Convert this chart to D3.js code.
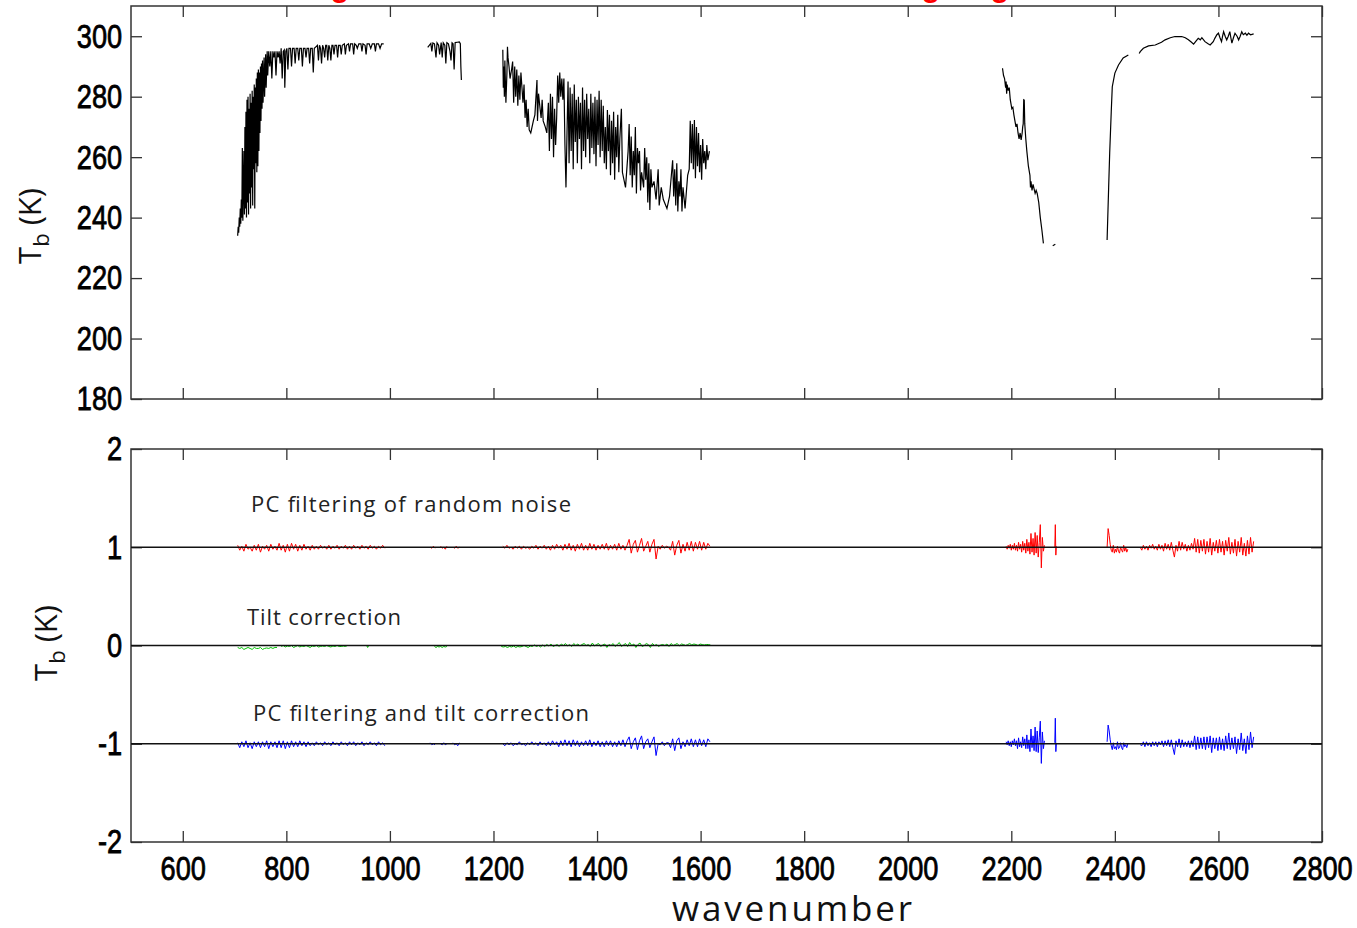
<!DOCTYPE html>
<html>
<head>
<meta charset="utf-8">
<title>Tb spectrum and residuals</title>
<script src="https://d3js.org/d3.v7.min.js"></script>
<style>
  * { margin: 0; padding: 0; }
  body { background: #fff; width: 1357px; height: 928px; overflow: hidden; }
  .tick text { font-family: "Liberation Sans", Arial, sans-serif; font-size: 34px; fill: #000; stroke: #000; stroke-width: 0.8px; }
  .tick line { stroke: #333; stroke-width: 1.3px; }
  .note { font-family: "Open Sans", sans-serif; font-size: 22px; fill: #222; }
  .lab { font-family: "Open Sans", sans-serif; fill: #111; }
</style>
</head>
<body>
<svg id="chart" width="1357" height="928"></svg>
<script>
// ---- data ----
const xTicks = [600, 800, 1000, 1200, 1400, 1600, 1800, 2000, 2200, 2400, 2600, 2800];
const topTicks = [180, 200, 220, 240, 260, 280, 300];
const botTicks = [-2, -1, 0, 1, 2];

// brightness temperature spectrum, [wavenumber, Tb], one array per band
const spec1 = [[706,234],[707,237],[708,235],[709,240],[710,237],[711,243],[712,238],[713,246],[714,240],[715,263],[716,239],[718,262],[719,241],[720,270],[721,243],[722,275],[723,240],[724,279],[725,245],[726,280],[727,241],[728,276],[729,248],[730,281],[731,243],[732,278],[733,250],[734,282],[735,244],[736,280],[737,256],[738,284],[739,243],[740,283],[741,258],[742,286],[743,255],[744,288],[745,257],[746,289],[747,262],[748,288],[749,268],[750,290],[751,272],[752,291],[753,276],[754,292],[755,278],[757,293],[758,280],[760,294],[761,283],[763,295],[764,287],[766,295],[768,290],[770,295],[772,286],[774,295],[776,293],[778,295],[780,287],[782,295],[784,293],[786,295],[788,291],[790,296],[792,286],[794,295],[796,295.5],[797,283],[799,295],[801,296],[803,289],[805,296],[808,296],[810,290],[812,296],[815,296],[817,291],[819,296],[822,296],[824,292],[826,296],[829,296],[831,290],[833,296],[836,296],[838,293],[840,296],[843,296],[845,291],[847,296],[850,296],[852,288],[854,296],[857,296.5],[860,297],[862,292],[864,297],[866,296],[868,291],[870,297],[872,296],[874,293],[876,297],[878,297],[880,292],[882,297],[884,296],[886,292],[888,297],[890,297],[892,294],[894,297],[897,297],[899,293],[901,297],[904,297],[906,294],[908,297],[912,297.5],[914,294],[916,297],[920,297.5],[922,295],[924,297.5],[928,297.5],[930,294],[932,297.5],[935,297],[937,296],[940,297.5],[944,297.5],[946,295],[948,297.5],[952,297],[954,294],[956,297.5],[960,297.5],[963,296],[966,297.5],[970,297.5],[972,295],[974,297.5],[978,297.5],[981,296],[984,297.5],[988,297.5]];
const spec2 = [[1073,296.3],[1076,297],[1079,297.6],[1081,295],[1083,297.8],[1086,297.5],[1089,293],[1091,297.8],[1094,297],[1096,294],[1099,297.9],[1101,293],[1103,297.8],[1106,297],[1108,291],[1110,297.9],[1113,297.5],[1116,295],[1118,292],[1120,297.8],[1122,297.5],[1124,289],[1126,297.9],[1130,298],[1134,298.1],[1136,297.5],[1137,290],[1138,285.5]];
const spec3 = [[1218,295.5],[1219,283],[1220,290],[1221,280],[1222,292],[1224,278],[1226,288],[1227,296.5],[1228,293],[1230,290],[1232,286],[1235,289],[1237,291.6],[1239,278],[1241,290],[1243,280],[1245,289],[1247,277],[1249,287],[1251,279],[1253,288],[1255,283],[1257,278],[1259,284],[1261,273],[1263,279],[1265,270],[1267,276],[1269,269],[1272,268],[1277,272],[1280,274],[1284,285.5],[1285,272],[1287,281],[1290,276],[1292,273],[1294,279],[1296,272],[1300,270],[1303,268],[1306,278],[1308,262],[1310,281],[1312,266],[1314,280],[1316,260],[1318,276],[1320,264],[1322,273],[1324,287],[1326,278],[1328,288],[1330,280],[1332,286],[1334,279],[1336,286],[1338,264],[1340,250],[1342,268],[1344,285],[1346,258],[1348,283],[1350,262],[1352,281],[1354,256],[1356,284],[1358,265],[1360,279],[1362,258],[1364,280],[1366,266],[1368,278],[1370,256],[1372,283],[1374,262],[1376,279],[1378,260],[1380,281],[1382,266],[1384,276],[1386,258],[1388,281],[1390,263],[1392,278],[1394,261],[1396,280],[1398,257],[1400,279],[1402,264],[1404,282],[1406,260],[1408,279],[1410,262],[1412,277],[1414,258],[1416,270],[1418,256],[1420,275.6],[1422,262],[1424,274],[1426,254],[1428,272],[1430,258],[1432,275],[1434,252.5],[1436,270],[1438,260],[1440,274],[1442,255],[1444,266],[1447,276],[1449,255],[1455,250],[1460,262],[1462,271],[1464,254],[1466,266.8],[1468,250],[1470,262],[1472,254],[1474,270],[1476,248],[1478,263],[1480,258],[1482,262],[1484,249],[1486,255],[1490,250],[1492,263],[1494,252.5],[1496,260],[1498,245],[1500,258],[1502,242.5],[1504,256],[1506,250],[1510,252],[1514,246],[1518,256],[1520,244],[1524,250],[1528,246],[1535,243],[1540,247],[1546,259],[1548,247],[1550,256],[1552,244],[1554,258],[1556,242],[1558,252],[1560,247],[1562,256],[1564,242],[1566,250],[1570,243],[1575,254],[1578,256],[1580,272],[1582,258],[1584,271],[1586,256],[1588,272.3],[1590,253],[1592,270],[1594,257],[1596,268],[1598,255],[1600,264],[1602,252.5],[1604,266],[1606,258],[1608,262],[1610,256],[1612,264],[1614,259],[1617,262]];
const spec4 = [[2183,289.4],[2185,287],[2187,286],[2189,283],[2190,285],[2191,281],[2192,284],[2194,282],[2196,283],[2198,279],[2201,276],[2203,276.5],[2205,274],[2207,272],[2209,270],[2211,271],[2213,268],[2215,266],[2217,268],[2219,265.7],[2221,268],[2222,270],[2223,271],[2224,279],[2225,278.9],[2226,271],[2228,266],[2230,262],[2233,257],[2236,254],[2237,250],[2238,252],[2240,249],[2242,251],[2244,249.5],[2246,248],[2248,249],[2250,248],[2253,245],[2256,240],[2259,236],[2262,231.5]];
const spec4b = [[2280,230.7],[2285,231.2]];
const spec5a = [[2385,232.6],[2388,250],[2390,261.4],[2393,275],[2395,283.3],[2400,287.8],[2407,290.5],[2416,292.8],[2426,293.8]];
const spec5b = [[2447,294.3],[2449,294.9],[2455,296],[2465,296.8],[2478,297.1],[2490,298],[2497,298.8],[2507,299.5],[2516,299.9],[2529,299.9],[2536,299.5],[2542,298.8],[2548,298],[2552,297.4],[2557,298.5],[2561,299.3],[2565,298.8],[2568,299.5],[2574,298.2],[2580,297.5],[2584,297.1],[2590,298.2],[2593,299.3],[2597,300.5],[2600,301],[2603,299.5],[2606,298.2],[2608,300],[2610,301.5],[2613,300],[2616,298.8],[2619,300],[2622,301.5],[2624,299.5],[2626,297.7],[2629,299.5],[2632,301],[2636,300],[2639,298.8],[2642,300],[2645,301.5],[2648,300.5],[2652,301],[2655,300.3],[2658,301],[2662,300.5],[2668,300.8]];
const spectrum = [spec1, spec2, spec3, spec4, spec4b, spec5a, spec5b];

// residuals (K) on channel grids: start wavenumber, channel step, values
const pcNoise = [
  {start: 706, step: 4, values: [0.02,-0.03,0.01,-0.04,0.03,-0.02,0.00,-0.04,0.02,-0.03, 0.03,-0.05,0.01,-0.02,0.02,-0.04,0.03,-0.02,0.01,-0.03, 0.04,-0.03,0.02,-0.05,0.03,-0.04,0.04,-0.02,0.03,-0.04, 0.02,-0.03,0.03,-0.02,0.01,-0.03,0.02,-0.02,0.01,-0.02, 0.02,-0.01,0.01,-0.02,0.02,-0.02,0.01,-0.01,0.02,-0.02, 0.01,-0.01,0.02,-0.02,0.01,-0.02,0.02,-0.01,0.01,-0.02, 0.02,-0.01,0.01,-0.02,0.02,-0.01,0.01,-0.02,0.01,-0.01, 0.02,-0.01]},
  {start: 1078, step: 3, values: [0.00,-0.01,0.01,-0.01]},
  {start: 1098, step: 3, values: [0.01,-0.01,0.00,-0.02,0.01]},
  {start: 1122, step: 3, values: [0.00,-0.01,0.01,-0.01,0.00]},
  {start: 1218, step: 4, values: [0.01,-0.01,0.02,-0.01,0.00,-0.02,0.01,-0.01,0.01,-0.02, 0.01,-0.01,0.00,-0.02,0.01,-0.01,0.02,-0.02,0.01,-0.01, 0.02,-0.02,0.01,-0.03,0.02,-0.02,0.03,-0.01,0.02,-0.03, 0.03,-0.02,0.04,-0.03,0.02,-0.04,0.03,-0.02,0.04,-0.03, 0.02,-0.03,0.04,-0.02,0.03,-0.03,0.02,-0.02,0.03,-0.02, 0.04,-0.03,0.02,-0.02,0.03,-0.03,0.04,-0.02,0.02,-0.03, 0.02,0.08,-0.06,0.03,0.07,-0.05,0.02,0.09,-0.04,0.01, 0.06,-0.05,0.03,0.08,-0.12,0.01,-0.02,0.02,-0.01,0.01, 0.00,-0.03,0.06,-0.08,0.02,0.07,-0.06,0.03,-0.04,0.05, -0.03,0.06,-0.04,0.05,-0.02,0.06,-0.03,0.05,-0.02,0.04, 0.01]},
  {start: 2190, step: 2, values: [0.01,-0.02,0.02,-0.01,0.03,-0.03,0.02,-0.02,0.04,-0.03,0.02,-0.04,0.05,-0.02,0.03,-0.05,0.06,-0.03,0.04,-0.06,0.08,-0.04,0.05,-0.07,0.14,-0.05,0.09,-0.08,0.15,-0.06,0.12,-0.10,0.05,0.23,-0.21,0.10,-0.04,0.02]},
  {start: 2284, step: 1, values: [0.00,0.23,-0.08,0.01]},
  {start: 2385, step: 2, values: [0.00,0.19,0.12,0.03,-0.03,-0.05,0.02,-0.06,-0.02,-0.05,0.01,-0.04,-0.06,0.00,-0.03,-0.05,0.02,-0.04,0.00,-0.05,-0.02]},
  {start: 2449, step: 3, values: [0.00,-0.03,0.02,-0.02,0.01,-0.03,0.02,-0.01,0.03,-0.02, 0.01,-0.03,0.03,-0.02,0.02,-0.04,0.04,-0.02,0.03,-0.03, 0.05,-0.03,-0.10,0.02,-0.04,0.06,-0.03,0.05,-0.02,0.03, -0.04,0.02,-0.03,0.04,-0.02,0.09,-0.05,0.08,-0.06,0.07, -0.04,0.08,-0.07,0.06,-0.05,0.09,-0.08,0.05,-0.04,0.07, -0.06,0.08,-0.05,0.06,-0.08,0.07,-0.04,0.10,-0.07,0.05, -0.06,0.08,-0.09,0.06,-0.05,0.10,-0.08,0.04,-0.09,0.07, -0.07,0.10,-0.05,0.06]}
];
const tilt = [
  {start: 706, step: 4, values: [-0.02,-0.03,-0.02,-0.04,-0.03,-0.02,-0.03,-0.04,-0.02,-0.03,-0.03,-0.02,-0.04,-0.03,-0.025,-0.03,-0.02,-0.03,-0.02,-0.02]},
  {start: 790, step: 4, values: [-0.01,0.00,-0.015,-0.005,-0.01,0.00,-0.02,-0.01,0.00,-0.015,-0.005,-0.01,0.00,-0.01,-0.02,-0.005,-0.01,0.00,-0.015,-0.01,-0.005,-0.01,0.00,-0.01,-0.015,-0.005,-0.01,0.00,-0.01,-0.01,-0.005,-0.01,0.00]},
  {start: 955, step: 2, values: [0.00,-0.02,0.00]},
  {start: 1086, step: 3, values: [-0.01,-0.02,-0.01,-0.015,-0.01,-0.02,-0.01,-0.015,-0.01]},
  {start: 1215, step: 4, values: [-0.01,-0.015,-0.01,-0.02,-0.01,-0.015,-0.005,-0.02,-0.01,-0.015, -0.01,0.00,-0.01,-0.02,-0.005,-0.01,0.005,-0.01,0.00,-0.015, 0.005,-0.01,0.01,-0.005,0.015,-0.01,0.00,0.01,-0.01,0.015, 0.00,0.02,-0.005,0.01,-0.01,0.02,0.00,0.015,-0.005,0.01, 0.02,0.00,0.01,-0.01,0.025,-0.005,0.01,0.02,-0.01,0.005, 0.015,-0.02,0.01,0.00,0.02,-0.01,0.01,0.03,-0.01,0.005, 0.02,-0.01,0.03,0.00,0.015,-0.02,0.01,0.025,-0.01,0.00, 0.02,0.01,-0.02,0.02,0.00,0.01,-0.01,0.005,0.01,0.00, 0.015,-0.01,0.02,0.00,0.01,0.02,-0.005,0.015,0.01,0.00, 0.01,0.02,0.005,0.015,0.01,0.00,0.015,0.01,0.005,0.01, 0.01,0.005]}
];
const pcTilt = [
  {start: 706, step: 4, values: [0.01,-0.04,0.02,-0.03,0.03,-0.04,0.01,-0.05,0.02,-0.03, 0.02,-0.04,0.02,-0.03,0.03,-0.05,0.02,-0.03,0.02,-0.04, 0.03,-0.04,0.03,-0.05,0.02,-0.04,0.03,-0.03,0.02,-0.03, 0.03,-0.02,0.02,-0.03,0.02,-0.02,0.01,-0.02,0.02,-0.01, 0.01,-0.02,0.02,-0.01,0.01,-0.02,0.02,-0.01,0.01,-0.02, 0.02,-0.01,0.01,-0.02,0.02,-0.01,0.02,-0.02,0.01,-0.01, 0.02,-0.02,0.01,-0.01,0.02,-0.01,0.01,-0.02,0.02,-0.01, 0.01,-0.02]},
  {start: 1078, step: 3, values: [0.01,-0.01,0.00,-0.01]},
  {start: 1098, step: 3, values: [0.00,-0.01,0.01,-0.01,0.00]},
  {start: 1122, step: 3, values: [0.01,-0.01,0.00,-0.02,0.01]},
  {start: 1218, step: 4, values: [0.00,-0.02,0.01,-0.01,0.01,-0.02,0.00,-0.01,0.02,-0.01, 0.00,-0.02,0.01,-0.01,0.02,-0.01,0.01,-0.02,0.02,-0.01, 0.01,-0.02,0.02,-0.02,0.03,-0.01,0.02,-0.03,0.03,-0.02, 0.04,-0.02,0.03,-0.03,0.04,-0.02,0.03,-0.03,0.02,-0.02, 0.03,-0.02,0.04,-0.03,0.02,-0.02,0.03,-0.03,0.02,-0.03, 0.03,-0.02,0.03,-0.03,0.02,-0.03,0.03,-0.02,0.04,-0.03, 0.03,0.07,-0.05,0.02,0.06,-0.06,0.03,0.08,-0.05,0.02, 0.05,-0.04,0.02,0.07,-0.12,0.00,-0.01,0.02,-0.02,0.01, 0.01,-0.04,0.05,-0.07,0.03,0.06,-0.05,0.02,-0.03,0.04, -0.02,0.05,-0.03,0.04,-0.03,0.05,-0.02,0.04,-0.03,0.05, 0.02]},
  {start: 2190, step: 2, values: [0.02,-0.01,0.03,-0.02,0.02,-0.03,0.03,-0.01,0.05,-0.02,0.03,-0.05,0.06,-0.03,0.02,-0.04,0.07,-0.02,0.05,-0.05,0.09,-0.05,0.04,-0.08,0.15,-0.04,0.08,-0.07,0.17,-0.08,0.13,-0.09,0.06,0.23,-0.20,0.12,-0.05,0.03]},
  {start: 2284, step: 1, values: [0.01,0.26,-0.08,0.00]},
  {start: 2385, step: 2, values: [0.02,0.19,0.13,0.04,-0.02,-0.06,0.01,-0.05,-0.03,-0.06,0.02,-0.05,-0.04,0.01,-0.04,-0.06,0.01,-0.03,-0.01,-0.04,0.00]},
  {start: 2449, step: 3, values: [-0.01,-0.02,0.02,-0.03,0.02,-0.02,0.01,-0.03,0.02,-0.02, 0.02,-0.03,0.02,-0.01,0.03,-0.03,0.03,-0.02,0.04,-0.03, 0.04,-0.04,-0.11,0.03,-0.03,0.05,-0.04,0.04,-0.03,0.02, -0.03,0.03,-0.04,0.03,-0.03,0.08,-0.06,0.07,-0.05,0.06, -0.05,0.07,-0.06,0.07,-0.04,0.08,-0.09,0.06,-0.05,0.06, -0.07,0.07,-0.06,0.05,-0.07,0.08,-0.05,0.11,-0.06,0.06, -0.05,0.07,-0.10,0.05,-0.06,0.11,-0.07,0.05,-0.10,0.08, -0.06,0.12,-0.04,0.07]}
];

const residualSeries = [
  {name: "PC filtering of random noise", offset: 1, color: "#ff0000", segs: pcNoise},
  {name: "Tilt correction", offset: 0, color: "#00c400", segs: tilt},
  {name: "PC filtering and tilt correction", offset: -1, color: "#0000ff", segs: pcTilt}
];

// ---- layout ----
const left = 131, right = 1322;
const svg = d3.select("#chart");

const x = d3.scaleLinear().domain([500, 2800]).range([left, right]);
const yTop = d3.scaleLinear().domain([180, 310]).range([399, 6]);
const yBot = d3.scaleLinear().domain([-2, 2]).range([842, 449]);

const plain = d => String(d);   // "-1" with a hyphen, no decimals

function frame(y, ticks, withXLabels) {
  const g = svg.append("g");
  const y0 = y.range()[0], y1 = y.range()[1];

  const bx = g.append("g").attr("transform", `translate(0,${y0})`)
    .call(d3.axisBottom(x).tickValues(xTicks).tickSizeInner(-11).tickSizeOuter(0).tickPadding(14)
      .tickFormat(withXLabels ? plain : ""));
  g.append("g").attr("transform", `translate(0,${y1})`)
    .call(d3.axisTop(x).tickValues(xTicks).tickSizeInner(-11).tickSizeOuter(0).tickFormat(""));
  const ly = g.append("g").attr("transform", `translate(${left},0)`)
    .call(d3.axisLeft(y).tickValues(ticks).tickSizeInner(-11).tickSizeOuter(0).tickPadding(11).tickFormat(plain));
  g.append("g").attr("transform", `translate(${right},0)`)
    .call(d3.axisRight(y).tickValues(ticks).tickSizeInner(-11).tickSizeOuter(0).tickFormat(""));

  g.selectAll(".domain").remove();
  bx.selectAll("text").attr("transform", "scale(0.8,1)");
  ly.selectAll("text").attr("transform", "scale(0.8,1)");
  g.append("rect")
    .attr("x", left).attr("y", y1)
    .attr("width", right - left).attr("height", y0 - y1)
    .attr("fill", "none").attr("stroke", "#333").attr("stroke-width", 1.5);
  return g;
}

frame(yTop, topTicks, false);
frame(yBot, botTicks, true);

// spectrum
const lineTop = d3.line().x(d => x(d[0])).y(d => yTop(d[1]));
svg.append("g").selectAll("path").data(spectrum).join("path")
  .attr("d", lineTop)
  .attr("fill", "none").attr("stroke", "#000").attr("stroke-width", 1.2);

// residuals, shifted by their display offset
const lineBot = d3.line().x(d => x(d[0])).y(d => yBot(d[1]));
residualSeries.forEach(s => {
  const pts = s.segs.map(seg => seg.values.map((v, i) => [seg.start + i * seg.step, v + s.offset]));
  svg.append("g").selectAll("path").data(pts).join("path")
    .attr("d", lineBot)
    .attr("fill", "none").attr("stroke", s.color).attr("stroke-width", 1);
});

// reference lines at each offset
svg.append("g").selectAll("line").data(residualSeries).join("line")
  .attr("x1", left).attr("x2", right)
  .attr("y1", d => yBot(d.offset)).attr("y2", d => yBot(d.offset))
  .attr("stroke", "#111").attr("stroke-width", 1.4);

// series annotations: left x, baseline y, drawn width
const notePos = [[251, 512, 320], [247, 625, 154], [253, 721, 336]];
svg.append("g").selectAll("text").data(residualSeries).join("text")
  .attr("class", "note")
  .attr("x", (d, i) => notePos[i][0]).attr("y", (d, i) => notePos[i][1])
  .attr("textLength", (d, i) => notePos[i][2]).attr("lengthAdjust", "spacing")
  .text(d => d.name);

// axis labels
function tbLabel(cx, cy) {
  const t = svg.append("text").attr("class", "lab")
    .attr("transform", `translate(${cx},${cy}) rotate(-90)`)
    .attr("text-anchor", "middle").attr("font-size", 31);
  t.append("tspan").text("T");
  t.append("tspan").attr("font-size", 22).attr("dy", 8).text("b");
  t.append("tspan").attr("dy", -8).text(" (K)");
}
tbLabel(41, 226);
tbLabel(57, 643);

svg.append("text").attr("class", "lab")
  .attr("x", 792).attr("y", 921).attr("text-anchor", "middle")
  .attr("font-size", 35).attr("textLength", 240).attr("lengthAdjust", "spacing")
  .text("wavenumber");

// title above the frame, only its descenders are in view
svg.append("g").selectAll("text").data([340, 931, 1000]).join("text")
  .attr("x", d => d).attr("y", -3).attr("text-anchor", "middle")
  .attr("font-family", "Liberation Sans, sans-serif").attr("font-weight", "bold")
  .attr("font-size", 30).attr("fill", "#ff0000").text("g");
</script>
</body>
</html>
